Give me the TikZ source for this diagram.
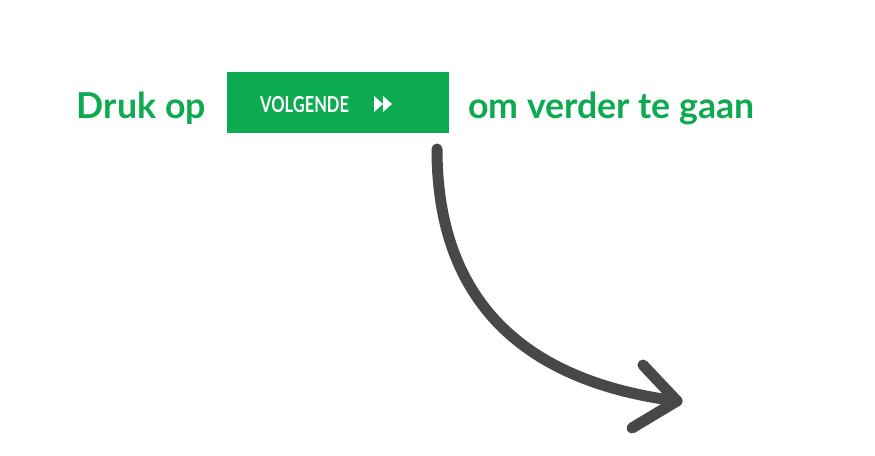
\documentclass[tikz,border=0pt]{standalone}
\usepackage{fontspec}
\setmainfont{Lato}
\newfontfamily\narrowfont[FakeStretch=0.75]{Lato}
\usepackage{tikz}
\usetikzlibrary{positioning}

\definecolor{knopgroen}{RGB}{13,170,80}
\definecolor{pijlgrijs}{RGB}{72,72,72}

\begin{document}
\begin{tikzpicture}[
		x=1pt, y=-1pt,
		title/.style    = {text=knopgroen, font=\fontsize{35.7}{40}\selectfont\bfseries, inner sep=0pt},
		btn/.style      = {fill=knopgroen, minimum width=222pt, minimum height=61pt, inner sep=0pt},
		btnlabel/.style = {text=white, font=\narrowfont\fontsize{22}{24}\selectfont\bfseries, inner sep=0pt},
		icon/.style     = {fill=white},
		pijl/.style     = {draw=pijlgrijs, line width=11pt, line cap=round, line join=round}
	]
	\useasboundingbox (0,0) rectangle (875,455);

	% knop
	\node [btn] (button) at (338,102.5) {};
	\node [btnlabel, anchor=base west] (label) at (260,112) {VOLGENDE};
	\coordinate (fwd) at (374,96);
	\fill [icon] (fwd) -- ++(9,8) -- ++(-9,8) -- cycle;
	\fill [icon] ([xshift=9pt]fwd) -- ++(9,8) -- ++(-9,8) -- cycle;

	% tekst
	\node [title, anchor=base east] (druk) at (206,118) {Druk op};
	\node [title, anchor=base west] (verder) at (468,118) {om verder te gaan};

	% pijl
	\coordinate (start) at (437,149);
	\coordinate (tip) at (677,401);
	\coordinate (arm1) at (643,365);
	\coordinate (arm2) at (632,428);
	\draw [pijl] (start) .. controls (437,330) and (560,386) .. (tip);
	\draw [pijl] (arm1) -- (tip) -- (arm2);
\end{tikzpicture}
\end{document}
